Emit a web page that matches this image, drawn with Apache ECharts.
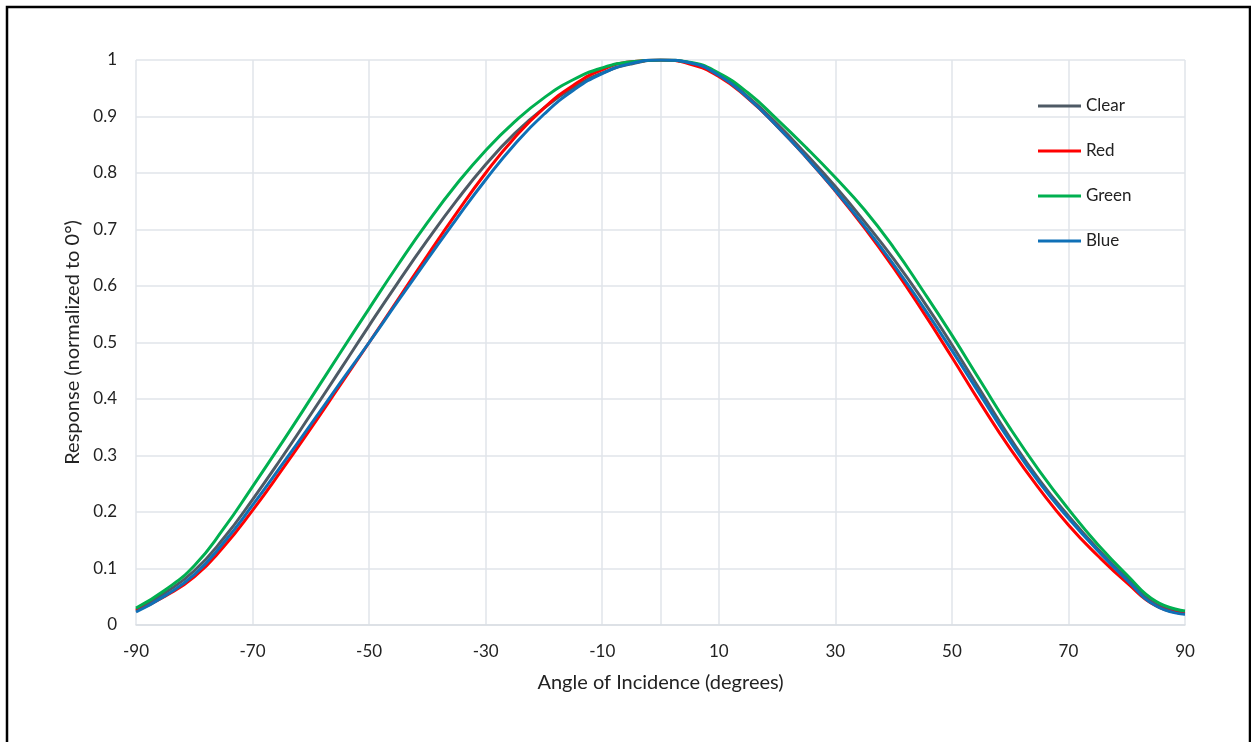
<!DOCTYPE html>
<html>
<head>
<meta charset="utf-8">
<script src="https://cdn.jsdelivr.net/npm/echarts@6/dist/echarts.min.js"></script>
<style>
html,body{margin:0;padding:0;background:#fff;}
#chart{width:1251px;height:742px;}
</style>
</head>
<body>
<div id="chart"></div>
<script>
const angles = [-90,-85,-80,-75,-70,-65,-60,-55,-50,-45,-40,-35,-30,-25,-20,-15,-10,-5,0,5,10,15,20,25,30,35,40,45,50,55,60,65,70,75,80,85,90];
const clearVals = [0.027,0.057,0.096,0.153,0.222,0.296,0.373,0.451,0.530,0.607,0.681,0.751,0.815,0.870,0.915,0.951,0.977,0.993,1.000,0.995,0.975,0.935,0.887,0.833,0.776,0.714,0.648,0.575,0.496,0.413,0.331,0.257,0.193,0.135,0.083,0.037,0.023];
const redVals = [0.025,0.051,0.085,0.138,0.203,0.274,0.348,0.424,0.500,0.577,0.654,0.729,0.800,0.863,0.915,0.955,0.983,0.997,1.000,0.993,0.971,0.932,0.883,0.828,0.768,0.703,0.632,0.555,0.474,0.391,0.312,0.241,0.177,0.123,0.075,0.034,0.020];
const greenVals = [0.030,0.062,0.105,0.170,0.245,0.322,0.401,0.481,0.560,0.638,0.712,0.780,0.840,0.891,0.933,0.965,0.986,0.997,1.000,0.996,0.977,0.942,0.895,0.845,0.792,0.735,0.668,0.592,0.513,0.430,0.348,0.273,0.205,0.143,0.089,0.042,0.025];
const blueVals = [0.023,0.052,0.089,0.145,0.212,0.283,0.355,0.428,0.500,0.574,0.647,0.719,0.788,0.851,0.904,0.946,0.976,0.994,1.000,0.995,0.973,0.933,0.883,0.828,0.769,0.706,0.638,0.564,0.486,0.405,0.325,0.252,0.189,0.132,0.080,0.034,0.019];
const seriesNames = ['Clear','Red','Green','Blue'];
const seriesColors = ['#4E5A65','#FF0000','#00B050','#0F70B7'];
const xTicks = [-90,-70,-50,-30,-10,10,30,50,70,90];
const yTicks = [0,0.1,0.2,0.3,0.4,0.5,0.6,0.7,0.8,0.9,1];

const allVals = [clearVals, redVals, greenVals, blueVals];
const font = 'Lato, "Open Sans", sans-serif';
const chart = echarts.init(document.getElementById('chart'), null, {renderer:'canvas'});
chart.setOption({
  animation:false,
  backgroundColor:'#fff',
  textStyle:{fontFamily:font},
  graphic:[{type:'rect', shape:{x:7,y:7,width:1243,height:800}, style:{fill:'none',stroke:'#000',lineWidth:2.5}, silent:true}],
  grid:{left:136,right:66,top:60,bottom:117,containLabel:false},
  legend:{
    orient:'vertical', left:1033, top:91, itemWidth:43, itemHeight:3, itemGap:25, itemTextGap:5,
    icon:'rect',
    textStyle:{fontFamily:font,fontSize:17,color:'#222',lineHeight:20},
    data:seriesNames
  },
  xAxis:{
    type:'value', min:xTicks[0], max:xTicks[xTicks.length-1], interval:xTicks[1]-xTicks[0],
    name:'Angle of Incidence (degrees)', nameLocation:'middle', nameGap:48,
    nameTextStyle:{fontFamily:font,fontSize:20,color:'#222'},
    axisLine:{show:true,lineStyle:{color:'#D9DEE3',width:1.5}},
    axisTick:{show:false},
    axisLabel:{fontFamily:font,fontSize:17,color:'#222',margin:18},
    splitLine:{show:true,lineStyle:{color:'#E1E5EA',width:1.5}}
  },
  yAxis:{
    type:'value', min:yTicks[0], max:yTicks[yTicks.length-1], interval:0.1,
    name:'Response (normalized to 0°)', nameLocation:'middle', nameGap:51,
    nameTextStyle:{fontFamily:font,fontSize:20,color:'#222'},
    axisLine:{show:true,lineStyle:{color:'#E1E5EA',width:1.5}},
    axisTick:{show:false},
    axisLabel:{fontFamily:font,fontSize:17,color:'#222',margin:19,formatter:v=>String(Math.round(v*10)/10)},
    splitLine:{show:true,lineStyle:{color:'#E1E5EA',width:1.5}}
  },
  series: seriesNames.map((n,i)=>({
    name:n, type:'line', smooth:0.5, showSymbol:false, symbol:'none',
    color:seriesColors[i],
    lineStyle:{width:3,color:seriesColors[i]},
    data: angles.map((a,k)=>[a, allVals[i][k]])
  }))
});
</script>
</body>
</html>
